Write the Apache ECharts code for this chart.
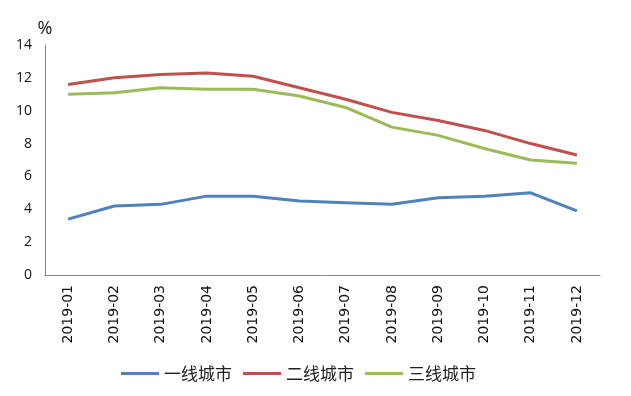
<!DOCTYPE html>
<html><head><meta charset="utf-8">
<script src="https://cdn.jsdelivr.net/npm/echarts@6/dist/echarts.min.js"></script>
<style>html,body{margin:0;padding:0;background:#fff}#c{width:631px;height:396px}</style>
</head><body><div id="c"></div>
<script>
const categories = ['2019-01','2019-02','2019-03','2019-04','2019-05','2019-06','2019-07','2019-08','2019-09','2019-10','2019-11','2019-12'];
const tier1 = [3.4,4.2,4.3,4.8,4.8,4.5,4.4,4.3,4.7,4.8,5.0,3.9];
const tier2 = [11.6,12.0,12.2,12.3,12.1,11.4,10.7,9.9,9.4,8.8,8.0,7.3];
const tier3 = [11.0,11.1,11.4,11.3,11.3,10.9,10.2,9.0,8.5,7.7,7.0,6.8];
const seriesNames = ['一线城市','二线城市','三线城市'];
const colors = ['#4F81BD','#C0504D','#9BBB59'];

const chart = echarts.init(document.getElementById('c'));
const mk = (name, data, color) => ({
  name, type:'line', data, symbol:'none', smooth:false,
  lineStyle:{color, width:3}, itemStyle:{color}
});
chart.setOption({
  animation:false,
  textStyle:{fontFamily:'"Noto Sans CJK SC", "DejaVu Sans", sans-serif'},
  grid:{left:45, top:45, right:31, bottom:121},
  legend:{
    bottom:9, left:116, itemWidth:38, itemHeight:3, itemGap:11,
    icon:'rect',
    textStyle:{fontSize:17, color:'#222', fontFamily:'"Noto Sans CJK SC", sans-serif'},
    data: seriesNames
  },
  xAxis:{
    type:'category', data:categories, boundaryGap:true,
    axisLine:{lineStyle:{color:'#868686', width:1}},
    axisTick:{show:false},
    axisLabel:{rotate:90, fontSize:14, color:'#111', margin:10, fontFamily:'"DejaVu Sans", sans-serif'}
  },
  yAxis:{
    type:'value', min:0, max:14, interval:2,
    name:'%', nameGap:4, nameTextStyle:{fontSize:18, color:'#111', align:'center', fontFamily:'"Open Sans", sans-serif'},
    axisLine:{show:true, lineStyle:{color:'#868686', width:1}},
    axisTick:{show:false},
    splitLine:{show:false},
    axisLabel:{fontSize:14, color:'#111', margin:13, fontFamily:'"Open Sans", sans-serif'}
  },
  series:[mk(seriesNames[0], tier1, colors[0]), mk(seriesNames[1], tier2, colors[1]), mk(seriesNames[2], tier3, colors[2])]
});
</script></body></html>
